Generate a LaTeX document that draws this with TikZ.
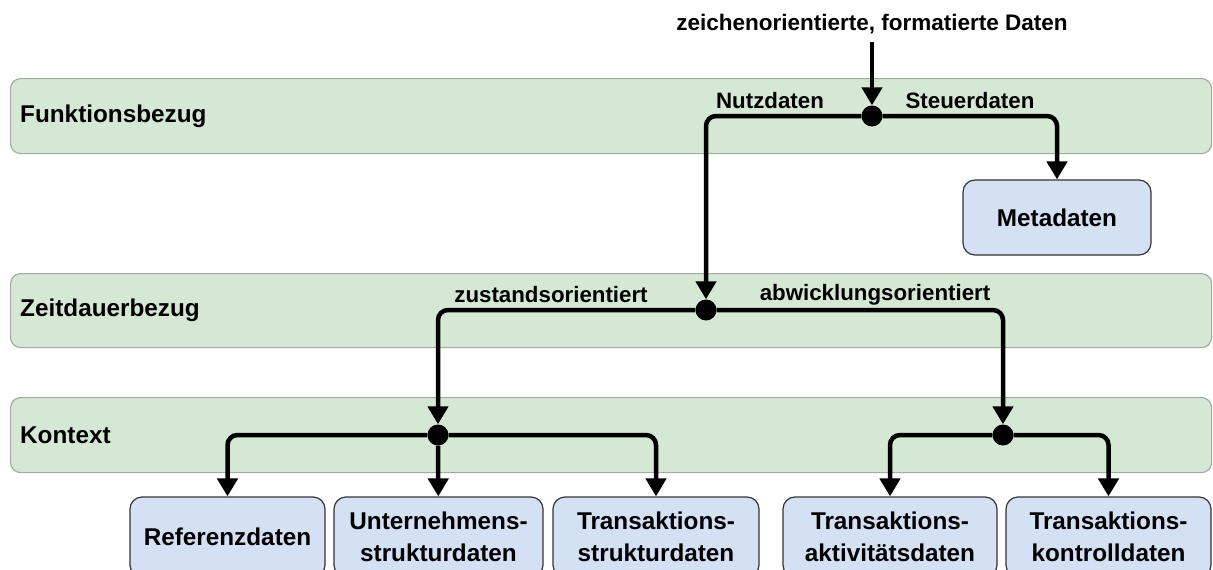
\documentclass[tikz,border=0pt]{standalone}
\usepackage{fontspec}
\setmainfont{Liberation Sans}
\usetikzlibrary{arrows.meta}
\definecolor{bandfill}{HTML}{D5E8D4}
\definecolor{banddraw}{HTML}{A8A8A8}
\definecolor{boxfill}{HTML}{D4E0F3}
\definecolor{boxdraw}{HTML}{333333}
\tikzset{
  band/.style={draw=banddraw, fill=bandfill, line width=1.2pt, rounded corners=10pt, anchor=north west, inner sep=0pt},
  bandlabel/.style={anchor=west, font=\fontsize{24.3}{28}\selectfont\bfseries, inner sep=0pt},
  databox/.style={draw=boxdraw, fill=boxfill, line width=1.2pt, rounded corners=12pt, align=center, inner sep=0pt, font=\fontsize{24.3}{32}\selectfont\bfseries},
  edgelabel/.style={font=\fontsize{22.3}{26}\selectfont\bfseries, inner sep=0pt},
  junction/.style={circle, fill=black, minimum size=21pt, inner sep=0pt},
  conn/.style={line width=4.5pt, rounded corners=10pt, -{Triangle[length=18pt,width=20pt]}},
}
\begin{document}
\begin{tikzpicture}[x=1pt,y=-1pt]
\useasboundingbox (0,0) rectangle (1213,570);
\begin{scope}
\clip (0,0) rectangle (1213,570);
% bands
\node[band, minimum width=1201pt, minimum height=75pt] (fb) at (10,78) {};
\node[band, minimum width=1201pt, minimum height=74pt] (zb) at (10,273) {};
\node[band, minimum width=1201pt, minimum height=75pt] (kb) at (10,397) {};
\node[bandlabel] (fbl) at (20,116) {Funktionsbezug};
\node[bandlabel] (zbl) at (20,310) {Zeitdauerbezug};
\node[bandlabel] (kbl) at (20,435) {Kontext};
% top label
\node[font=\fontsize{22.5}{26}\selectfont\bfseries, inner sep=0pt] (top) at (872,24) {zeichenorientierte, formatierte Daten};
% junctions
\node[junction] (d1) at (872,116) {};
\node[junction] (d2) at (706,310) {};
\node[junction] (d3) at (438,435) {};
\node[junction] (d4) at (1003,435) {};
% boxes
\node[databox, minimum width=188pt, minimum height=75pt] (meta) at (1057,217.5) {Metadaten};
\node[databox, minimum width=195pt, minimum height=80pt] (ref) at (227.5,537) {Referenzdaten};
\node[databox, minimum width=209pt, minimum height=80pt] (unt) at (438.5,537) {Unternehmens-\\strukturdaten};
\node[databox, minimum width=206pt, minimum height=80pt] (tst) at (656,537) {Transaktions-\\strukturdaten};
\node[databox, minimum width=214pt, minimum height=80pt] (tak) at (890,537) {Transaktions-\\aktivitätsdaten};
\node[databox, minimum width=205pt, minimum height=80pt] (tko) at (1108.5,537) {Transaktions-\\kontrolldaten};
% edge labels
\node[edgelabel] (l1) at (770,101) {Nutzdaten};
\node[edgelabel] (l2) at (970,101) {Steuerdaten};
\node[edgelabel] (l3) at (551,295) {zustandsorientiert};
\node[edgelabel] (l4) at (875,295) {abwicklungsorientiert};
% connectors
\draw[conn] ([yshift=-8pt]top.south) -- (d1);
\draw[conn] (d1) -| (d2);
\draw[conn] (d1) -| (meta);
\draw[conn] (d2) -| (d3);
\draw[conn] (d2) -| (d4);
\draw[conn] (d3) -| (ref);
\draw[conn] (d3) -- (unt);
\draw[conn] (d3) -| (tst);
\draw[conn] (d4) -| (tak);
\draw[conn] (d4) -| (tko);
\end{scope}
\end{tikzpicture}
\end{document}
